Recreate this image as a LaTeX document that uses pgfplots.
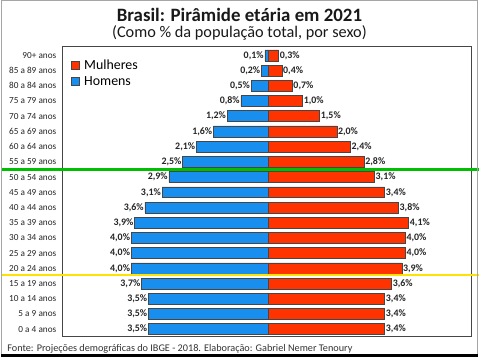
\documentclass[border=0pt]{standalone}
\usepackage{fontspec}
\setmainfont{Carlito}
\usepackage{pgfplots}
\pgfplotsset{compat=1.18}
\usepackage{pgfplotstable}
\definecolor{blu}{RGB}{24,142,238}
\definecolor{rd}{RGB}{255,51,0}
\definecolor{frm}{RGB}{70,70,70}
\pgfplotstableread{
y h m
0 3.5 3.4
1 3.5 3.4
2 3.5 3.4
3 3.7 3.6
4 4.0 3.9
5 4.0 4.0
6 4.0 4.0
7 3.9 4.1
8 3.6 3.8
9 3.1 3.4
10 2.9 3.1
11 2.5 2.8
12 2.1 2.4
13 1.6 2.0
14 1.2 1.5
15 0.8 1.0
16 0.5 0.7
17 0.2 0.4
18 0.1 0.3
}\pyr
\begin{document}
\begin{tikzpicture}[x=1pt,y=1pt]
\fill[white] (0,0) rectangle (480,360);
\begin{axis}[
  at={(62pt,21pt)}, anchor=south west,
  scale only axis, width=412pt, height=292pt,
  xmin=-6.0, xmax=5.94, ymin=-0.48, ymax=18.57,
  xbar, bar shift=0pt, bar width=11pt,
  clip=false,
  /pgf/number format/assume math mode=true,
  axis line style={frm, line width=0.8pt},
  xtick=\empty,
  ytick={0,...,18},
  yticklabels={0 a 4 anos,5 a 9 anos,10 a 14 anos,15 a 19 anos,20 a 24 anos,25 a 29 anos,30 a 34 anos,35 a 39 anos,40 a 44 anos,45 a 49 anos,50 a 54 anos,55 a 59 anos,60 a 64 anos,65 a 69 anos,70 a 74 anos,75 a 79 anos,80 a 84 anos,85 a 89 anos,90+ anos},
  yticklabel style={font=\fontsize{9.3}{10}\selectfont, text=black!85, xshift=-3pt},
  major tick length=0pt,
  point meta=explicit,
  nodes near coords={\pgfmathprintnumber[fixed,fixed zerofill,precision=1,use comma,assume math mode=true]{\pgfplotspointmeta}\%},
  nodes near coords style={font=\bfseries\fontsize{10}{11}\selectfont, text=black!85, inner sep=1pt},
  legend style={draw=none, fill=none, at={(0.012,0.97)}, anchor=north west, font=\fontsize{14}{15}\selectfont, row sep=1.5pt, legend cell align=left},
  legend image code/.code={\draw[#1, draw=frm, line width=0.4pt] (0pt,-4pt) rectangle (8pt,4pt); \path (11pt,0pt);},
]
\addplot[fill=rd, draw=frm, line width=0.5pt, every node near coord/.append style={anchor=west}] table[x=m, y=y, meta=m] {\pyr};
\addlegendentry{Mulheres}
\addplot[fill=blu, draw=frm, line width=0.5pt, every node near coord/.append style={anchor=east}] table[x expr=-\thisrow{h}, y=y, meta=h] {\pyr};
\addlegendentry{Homens}
\draw[green!75!black, line width=2.2pt] (axis cs:-7.8,10.5) -- (axis cs:6.15,10.5);
\draw[yellow!85!orange, line width=2.2pt] (axis cs:-7.8,3.55) -- (axis cs:6.15,3.55);
\end{axis}
\node[font=\bfseries\fontsize{19}{21}\selectfont, text=black!90] at (240,345) {Brasil: Pirâmide etária em 2021};
\node[font=\fontsize{16.4}{18}\selectfont, text=black!90] at (240,327) {(Como \% da população total, por sexo)};
\node[anchor=west, font=\fontsize{10.3}{12}\selectfont, text=black!80, inner sep=0pt] at (6,8.5) {Fonte: Projeções demográficas do IBGE - 2018. Elaboração: Gabriel Nemer Tenoury};
\draw[gray!70, line width=1pt] (0.5,0.5) rectangle (479.5,359.5);
\fill[black] (0,0) rectangle (480,3);
\end{tikzpicture}
\end{document}
